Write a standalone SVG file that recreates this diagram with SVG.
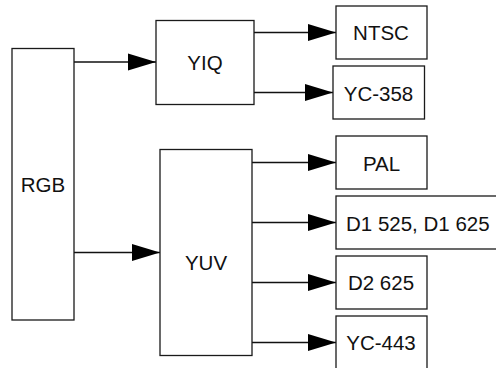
<svg xmlns="http://www.w3.org/2000/svg" width="496" height="368" viewBox="0 0 496 368">
<defs>
<marker id="arr" markerUnits="userSpaceOnUse" markerWidth="28" markerHeight="18" refX="28" refY="9" orient="auto" overflow="visible">
<path d="M0,0.5 L28,9 L0,17.5 z" fill="#000"/>
</marker>
<style>
.box{fill:#fff;stroke:#1a1a1a;stroke-width:1.3}
.t{font-family:"Liberation Sans",Arial,sans-serif;font-size:20.5px;fill:#111;text-anchor:middle}
.c{fill:none;stroke:#111;stroke-width:1.3}
</style>
</defs>
<rect width="496" height="368" fill="#fff"/>
<g id="connectors">
<line class="c" x1="74" y1="62" x2="156" y2="62" marker-end="url(#arr)"/>
<line class="c" x1="74" y1="252.5" x2="160" y2="252.5" marker-end="url(#arr)"/>
<line class="c" x1="254" y1="32.5" x2="336" y2="32.5" marker-end="url(#arr)"/>
<line class="c" x1="254" y1="92.5" x2="333" y2="92.5" marker-end="url(#arr)"/>
<line class="c" x1="252" y1="162.5" x2="336" y2="162.5" marker-end="url(#arr)"/>
<line class="c" x1="252" y1="222.5" x2="336" y2="222.5" marker-end="url(#arr)"/>
<line class="c" x1="252" y1="282.5" x2="336" y2="282.5" marker-end="url(#arr)"/>
<line class="c" x1="252" y1="342.5" x2="336" y2="342.5" marker-end="url(#arr)"/>
</g>
<g id="rgb"><rect class="box" x="12" y="48.5" width="62" height="271.5"/><text class="t" x="43" y="191.5">RGB</text></g>
<g id="yiq"><rect class="box" x="156" y="20.5" width="98" height="84"/><text class="t" x="205" y="70">YIQ</text></g>
<g id="yuv"><rect class="box" x="160" y="149.5" width="92" height="206"/><text class="t" x="206" y="269.5">YUV</text></g>
<g id="ntsc"><rect class="box" x="336" y="6" width="91" height="53"/><text class="t" x="381" y="40">NTSC</text></g>
<g id="yc358"><rect class="box" x="333" y="66" width="91.5" height="53"/><text class="t" x="378.5" y="100.5">YC-358</text></g>
<g id="pal"><rect class="box" x="336" y="136" width="91" height="53"/><text class="t" x="381.5" y="170.5">PAL</text></g>
<g id="d1"><rect class="box" x="336" y="196" width="170" height="53"/><text class="t" x="346" y="230.5" style="text-anchor:start">D1 525, D1 625</text></g>
<g id="d2"><rect class="box" x="336" y="256" width="91" height="53"/><text class="t" x="381" y="290">D2 625</text></g>
<g id="yc443"><rect class="box" x="336" y="316" width="91" height="60"/><text class="t" x="381" y="350">YC-443</text></g>
</svg>
